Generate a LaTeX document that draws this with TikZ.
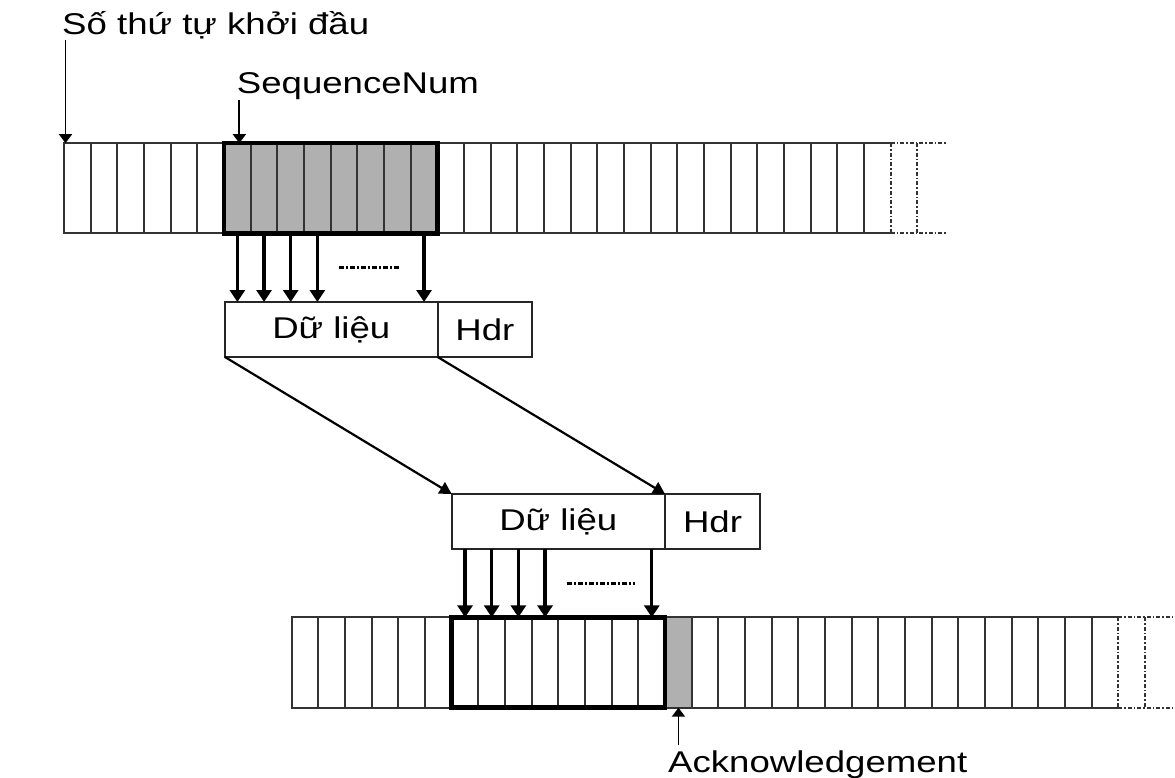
\documentclass[tikz,border=0pt]{standalone}
\usepackage{fontspec}
\setmainfont{Liberation Sans}[FakeStretch=1.22]
\usetikzlibrary{arrows.meta}
\begin{document}
\begin{tikzpicture}[x=1pt,y=-1pt,
  cell/.style={draw=black!80, line width=2pt, minimum width=26.67pt, minimum height=90.3pt, inner sep=0pt, outer sep=0pt},
  shaded/.style={cell, fill=black!31},
  edge/.style={draw=black!80, line width=2pt},
  tail/.style={draw=black!80, line width=2pt, dash pattern=on 4pt off 2pt on 1.5pt off 2pt},
  window/.style={draw=black, line width=4.5pt},
  pkt/.style={draw=black!85, line width=1.8pt, minimum height=55pt, inner sep=0pt, outer sep=0pt, font=\fontsize{30}{36}\selectfont},
  lbl/.style={inner sep=0pt, font=\fontsize{30}{36}\selectfont},
  feed/.style={line width=3.2pt, -{Triangle[width=15pt,length=12pt]}},
  move/.style={line width=2.2pt, -{Triangle[width=13pt,length=12pt]}},
  point/.style={line width=1.8pt, -{Triangle[width=13pt,length=9pt]}},
  gap/.style={line width=2.6pt, dash pattern=on 5pt off 2pt on 2pt off 2pt}]
\useasboundingbox (0,0) rectangle (1175,778);
\foreach \i in {1,...,6,15,16,...,30} \node[cell] (t\i) at (64+26.67*\i-13.33,188.3) {};
\foreach \i in {7,...,14} \node[shaded] (t\i) at (64+26.67*\i-13.33,188.3) {};
\node[cell, draw=none] (t31) at (64+26.67*31-13.33,188.3) {};
\foreach \i in {1,...,14,16,17,...,30} \node[cell] (b\i) at (291.7+26.67*\i-13.33,662.5) {};
\node[shaded] (b15) at (291.7+26.67*15-13.33,662.5) {};
\node[cell, draw=none] (b31) at (291.7+26.67*31-13.33,662.5) {};
\draw[edge] (t30.north east) -- (t31.north east) (t30.south east) -- (t31.south east);
\draw[tail] (t31.north east) -- (t31.south east) (t31.north east) ++(26.67,0) -- ++(0,90.3);
\draw[tail] (t31.north east) -- ++(55,0) (t31.south east) -- ++(55,0);
\draw[edge] (b30.north east) -- (b31.north east) (b30.south east) -- (b31.south east);
\draw[tail] (b31.north east) -- (b31.south east) (b31.north east) ++(26.67,0) -- ++(0,90.3);
\draw[tail] (b31.north east) -- ++(58,0) (b31.south east) -- ++(58,0);
\draw[window] (t7.north west) rectangle (t14.south east);
\draw[window] (b7.north west) rectangle (b14.south east);
\node[pkt, minimum width=212.7pt] (data1) at (331.3,329.5) {Dữ liệu};
\node[pkt, minimum width=94.3pt] (hdr1) at (484.85,329.5) {Hdr};
\node[pkt, minimum width=213.3pt] (data2) at (558.35,521.5) {Dữ liệu};
\node[pkt, minimum width=95pt] (hdr2) at (712.5,521.5) {Hdr};
\node[lbl, anchor=base west] (start) at (62,35) {Số thứ tự khởi đầu};
\node[lbl, anchor=base west] (seqnum) at (236.7,93.3) {SequenceNum};
\node[lbl, anchor=base west] (ack) at (668,772) {Acknowledgement};
\foreach \i in {7,8,9,10,14} \draw[feed] (t\i.south) -- (t\i.south |- data1.north);
\foreach \i in {7,8,9,10,14} \draw[feed] (b\i.north |- data2.south) -- (b\i.north);
\draw[move] (data1.south west) -- (data2.north west);
\draw[move] (data1.south east) -- (data2.north east);
\draw[point] ([xshift=1.5pt]start.south -| t1.north west) -- ([xshift=1.5pt]t1.north west);
\draw[point] ([xshift=2pt]seqnum.south -| t7.north) -- ([xshift=2pt]t7.north);
\draw[point] ([yshift=5pt]ack.north -| b15.south) -- (b15.south);
\draw[gap] (339,267.7) -- (400.7,267.7);
\draw[gap] (566.7,583.3) -- (635,583.3);
\end{tikzpicture}
\end{document}
